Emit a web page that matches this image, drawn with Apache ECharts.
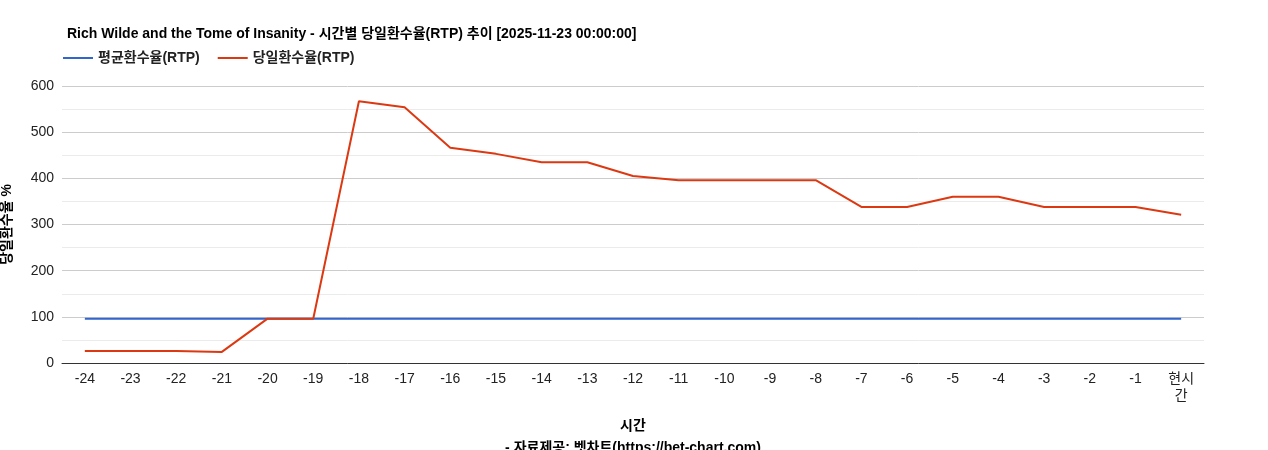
<!DOCTYPE html>
<html><head><meta charset="utf-8">
<script src="https://cdn.jsdelivr.net/npm/echarts@6/dist/echarts.min.js"></script>
<style>html,body{margin:0;padding:0;background:#fff}#c{width:1268px;height:450px}</style>
</head><body><div id="c"></div>
<script>
const categories = ['-24','-23','-22','-21','-20','-19','-18','-17','-16','-15','-14','-13','-12','-11','-10','-9','-8','-7','-6','-5','-4','-3','-2','-1','현시\n간'];
const avgRtp = [96,96,96,96,96,96,96,96,96,96,96,96,96,96,96,96,96,96,96,96,96,96,96,96,96];
const dayRtp = [26,26,26,24,96,96,567,554,466,453,435,435,405,396,396,396,396,338,338,360,360,338,338,338,321];
const yTicks = [0,100,200,300,400,500,600];
const font = '"Liberation Sans", "Noto Sans CJK KR", sans-serif';
const chart = echarts.init(document.getElementById('c'));
chart.setOption({
  animation:false,
  textStyle:{fontFamily:font},
  title:{text:'Rich Wilde and the Tome of Insanity - 시간별 당일환수율(RTP) 추이 [2025-11-23 00:00:00]',left:62,top:22,textStyle:{fontSize:14,fontWeight:'bold',color:'#000',fontFamily:font}},
  legend:{left:58,top:46,itemWidth:30,itemHeight:2,itemGap:18,icon:'rect',textStyle:{fontSize:14,fontWeight:'bold',color:'#222',fontFamily:font},data:['평균환수율(RTP)','당일환수율(RTP)']},
  grid:{left:62,right:64,top:86,bottom:87,containLabel:false,outerBoundsMode:'none'},
  xAxis:{type:'category',data:categories,boundaryGap:true,
    name:'시간\n- 자료제공: 벳차트(https://bet-chart.com)',nameLocation:'middle',nameGap:52,
    nameTextStyle:{fontSize:14,fontWeight:'bold',color:'#000',lineHeight:22,fontFamily:font},
    axisLine:{lineStyle:{color:'#333'}},axisTick:{show:false},
    axisLabel:{fontSize:14,color:'#222',interval:0,margin:8,lineHeight:17,fontFamily:font}},
  yAxis:{type:'value',min:yTicks[0],max:yTicks[yTicks.length-1],interval:100,
    name:'당일환수율 %',nameLocation:'middle',nameGap:48,nameRotate:90,
    nameTextStyle:{fontSize:14,fontWeight:'bold',color:'#000',fontFamily:font},
    axisLabel:{fontSize:14,color:'#222',fontFamily:font},
    splitLine:{lineStyle:{color:'#ccc'}},
    minorTick:{show:false,splitNumber:2},
    minorSplitLine:{show:true,lineStyle:{color:'#ebebeb'}}},
  series:[
    {name:'평균환수율(RTP)',type:'line',data:avgRtp,symbol:'none',lineStyle:{color:'#3366cc',width:2},itemStyle:{color:'#3366cc'}},
    {name:'당일환수율(RTP)',type:'line',data:dayRtp,symbol:'none',lineStyle:{color:'#dc3912',width:2},itemStyle:{color:'#dc3912'}}
  ]
});
</script></body></html>
